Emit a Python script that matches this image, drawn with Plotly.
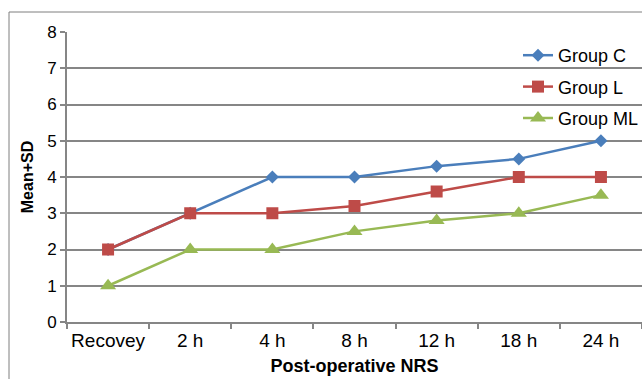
import plotly.graph_objects as go

categories = ["Recovey", "2 h", "4 h", "8 h", "12 h", "18 h", "24 h"]
group_c = [2, 3, 4, 4, 4.3, 4.5, 5]
group_l = [2, 3, 3, 3.2, 3.6, 4, 4]
group_ml = [1, 2, 2, 2.5, 2.8, 3, 3.5]
y_ticks = [0, 1, 2, 3, 4, 5, 6, 7, 8]

W, H = 642, 379
ML, MR, MT, MB = 67, 0, 32, 57
pw, ph = W - ML - MR, H - MT - MB

fig = go.Figure()
series = [
    ("Group C", group_c, "#4A7EBB", "diamond", 10),
    ("Group L", group_l, "#BE4B48", "square", 12),
    ("Group ML", group_ml, "#98B954", "triangle-up", 14),
]
for i, (name, vals, col, sym, sz) in enumerate(series):
    fig.add_trace(go.Scatter(
        x=categories, y=vals, name=name, mode="lines+markers",
        line=dict(color=col, width=2.5),
        marker=dict(symbol=sym, size=sz, color=col),
        legendgroup=f"g{i}",
    ))

grid = "#868686"
fig.update_layout(
    width=W, height=H,
    margin=dict(l=ML, r=MR, t=MT, b=MB, autoexpand=False),
    paper_bgcolor="white", plot_bgcolor="white",
    font=dict(family="Liberation Sans, Arial", size=18, color="black"),
    showlegend=True,
    legend=dict(x=(518 - ML) / pw, y=(ph - 5) / ph, xanchor="left", yanchor="top",
                bgcolor="rgba(0,0,0,0)", tracegroupgap=5, traceorder="grouped",
                font=dict(size=18)),
    xaxis=dict(
        type="category", categoryorder="array", categoryarray=categories,
        showgrid=False, showline=True, linecolor=grid, linewidth=2,
        ticks="outside", tickson="boundaries", ticklen=5, tickcolor=grid, tickwidth=2,
        tickfont=dict(size=19), tickangle=0, automargin=False,
        title=dict(text="<b>Post-operative NRS</b>", font=dict(size=18), standoff=10),
        range=[-0.5, 6.5],
    ),
    yaxis=dict(
        range=[0, 8], tickvals=y_ticks, showgrid=True, gridcolor=grid, gridwidth=2,
        showline=True, linecolor=grid, linewidth=2, zeroline=False,
        ticks="outside", ticklen=5, tickcolor=grid, tickwidth=2,
        tickfont=dict(size=17), automargin=False,
        title=dict(text="<b>Mean+SD</b>", font=dict(size=16), standoff=10),
    ),
    shapes=[dict(
        type="rect", xref="paper", yref="paper",
        x0=(9 - ML) / pw, x1=1.05, y0=-0.5, y1=(ph + 20) / ph,
        line=dict(color="#7f7f7f", width=1), layer="below",
    )],
)

fig.write_html(
    "out.html",
    config={"displayModeBar": False},
    post_script="document.body.style.margin='0';document.body.style.overflow='hidden';",
)
